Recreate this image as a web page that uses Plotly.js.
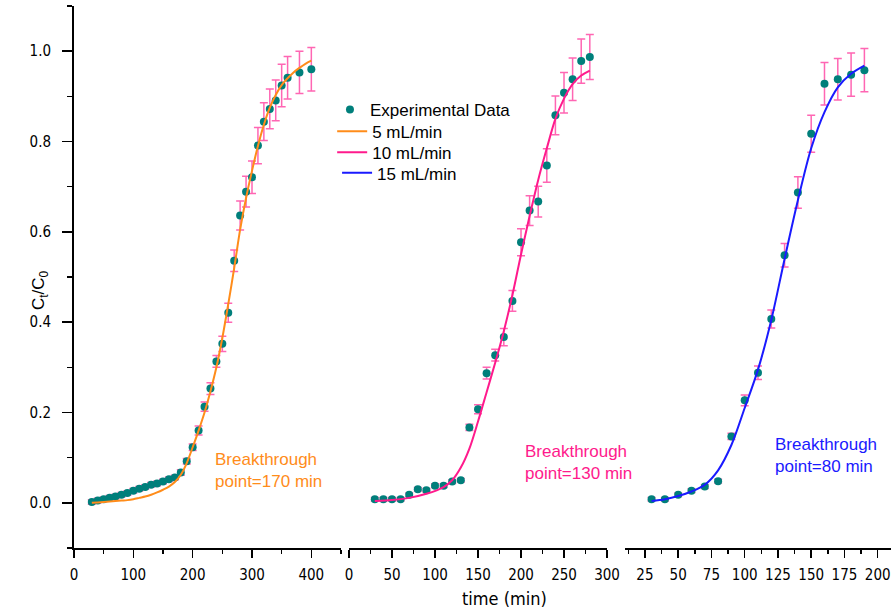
<!DOCTYPE html>
<html>
<head>
<meta charset="utf-8">
<script src="https://cdn.plot.ly/plotly-3.0.1.min.js"></script>
<style>html,body{margin:0;padding:0;background:#fff;}#chart{width:895px;height:614px;}</style>
</head>
<body>
<div id="chart"></div>
<script>
// ---- Experimental data, 5 mL/min ----
const t5 = [30,40,50,60,70,80,90,100,110,120,130,140,150,160,170,180,190,200,210,220,230,240,250,260,270,280,290,300,310,320,330,340,350,360,380,400];
const c5 = [0.002,0.005,0.008,0.011,0.014,0.018,0.022,0.027,0.031,0.035,0.040,0.043,0.047,0.052,0.056,0.067,0.092,0.123,0.160,0.213,0.253,0.313,0.352,0.421,0.536,0.636,0.689,0.721,0.791,0.844,0.872,0.891,0.924,0.941,0.953,0.960];
const e5 = [0.005,0.005,0.005,0.005,0.005,0.005,0.005,0.005,0.005,0.005,0.005,0.005,0.005,0.005,0.005,0.006,0.006,0.007,0.010,0.010,0.013,0.013,0.017,0.021,0.024,0.032,0.034,0.036,0.040,0.042,0.044,0.045,0.047,0.047,0.047,0.048];
// ---- Experimental data, 10 mL/min ----
const t10 = [30,40,50,60,70,80,90,100,110,120,130,140,150,160,170,180,190,200,210,220,230,240,250,260,270,280];
const c10 = [0.008,0.008,0.008,0.008,0.018,0.030,0.028,0.038,0.038,0.047,0.050,0.167,0.207,0.287,0.327,0.367,0.447,0.577,0.647,0.667,0.747,0.858,0.908,0.938,0.978,0.987];
const e10 = [0.004,0.004,0.004,0.004,0.004,0.004,0.004,0.004,0.004,0.004,0.004,0.007,0.010,0.013,0.013,0.019,0.023,0.030,0.033,0.034,0.037,0.043,0.045,0.047,0.049,0.050];
// ---- Experimental data, 15 mL/min ----
const t15 = [30,40,50,60,70,80,90,100,110,120,130,140,150,160,170,180,190];
const c15 = [0.008,0.008,0.018,0.027,0.036,0.048,0.147,0.227,0.288,0.407,0.548,0.687,0.817,0.928,0.938,0.948,0.958];
const e15 = [0.004,0.004,0.004,0.004,0.004,0.004,0.007,0.012,0.015,0.020,0.026,0.035,0.041,0.047,0.046,0.048,0.048];
// ---- Fitted curves ----
const ft5 = [30,40,50,60,70,80,90,100,110,120,130,140,150,160,170,180,190,200,210,220,230,240,250,260,270,280,290,300,310,320,330,340,350,360,370,380,390,400];
const fc5 = [0.000,0.001,0.002,0.003,0.004,0.005,0.006,0.008,0.011,0.014,0.018,0.023,0.029,0.036,0.046,0.062,0.088,0.123,0.160,0.200,0.247,0.300,0.365,0.440,0.520,0.605,0.675,0.735,0.790,0.837,0.875,0.903,0.925,0.940,0.953,0.963,0.972,0.979];
const ft10 = [30,50,70,90,110,120,130,140,150,160,170,180,190,200,210,220,230,240,250,260,270,280];
const fc10 = [0.004,0.006,0.011,0.020,0.035,0.050,0.078,0.120,0.180,0.245,0.310,0.380,0.460,0.550,0.635,0.715,0.785,0.850,0.895,0.927,0.946,0.957];
const ft15 = [30,40,50,60,70,80,90,100,110,120,130,140,150,160,170,180,190];
const fc15 = [0.004,0.008,0.015,0.025,0.040,0.072,0.128,0.210,0.295,0.405,0.540,0.670,0.785,0.865,0.920,0.950,0.968];
// ---- Labels ----
const seriesNames = ['Experimental Data','5 mL/min','10 mL/min','15 mL/min'];
const notes = ['Breakthrough<br>point=170 min','Breakthrough<br>point=130 min','Breakthrough<br>point=80 min'];

const TEAL = '#007f7b', PINK = '#ff66b3';
const COL5 = '#ff8c1a', COL10 = '#ff1a8c', COL15 = '#1a1aff';
const NARROW = '"Liberation Sans Narrow", "Arial Narrow", "DejaVu Sans Condensed", sans-serif';
const SANS = '"Liberation Sans", Arial, sans-serif';

function dataTrace(x, y, e, xa, show) {
  return {
    type: 'scatter', mode: 'markers', x: x, y: y, xaxis: xa, yaxis: 'y',
    name: seriesNames[0], showlegend: show, legend: 'legend',
    marker: {color: TEAL, size: 8},
    error_y: {type: 'data', array: e, visible: true, color: PINK, thickness: 1.5, width: 4}
  };
}
function fitTrace(x, y, xa, name, col, lg) {
  return {
    type: 'scatter', mode: 'lines', x: x, y: y, xaxis: xa, yaxis: 'y',
    name: name, legend: lg,
    line: {color: col, width: 2, shape: 'spline', smoothing: 0.9}
  };
}

const traces = [
  dataTrace(t5, c5, e5, 'x', true),
  dataTrace(t10, c10, e10, 'x2', false),
  dataTrace(t15, c15, e15, 'x3', false),
  fitTrace(ft5, fc5, 'x', seriesNames[1], COL5, 'legend2'),
  fitTrace(ft10, fc10, 'x2', seriesNames[2], COL10, 'legend3'),
  fitTrace(ft15, fc15, 'x3', seriesNames[3], COL15, 'legend4')
];

function xax(domain, range, dtick, minor) {
  return {
    domain: domain, range: range, anchor: 'y', tick0: 0, dtick: dtick,
    showline: true, linewidth: 2, linecolor: '#000', zeroline: false, showgrid: false,
    ticks: 'outside', ticklen: 8, tickwidth: 1.5, tickcolor: '#000',
    minor: {ticks: 'outside', ticklen: 4, tickwidth: 1.5, dtick: minor, tick0: 0, tickcolor: '#000', showgrid: false},
    tickfont: {family: NARROW, size: 15, color: '#000'}, ticklabelstandoff: 4
  };
}
function lg(x, y) {
  return {x: x, y: y, xanchor: 'left', yanchor: 'middle', bgcolor: 'rgba(0,0,0,0)', borderwidth: 0,
          font: {family: SANS, size: 17, color: '#000'}};
}

const layout = {
  width: 895, height: 614,
  margin: {l: 74, r: 4, t: 6, b: 66},
  paper_bgcolor: '#fff', plot_bgcolor: 'rgba(0,0,0,0)',
  showlegend: true,
  legend: lg(0.3133, 0.8081),
  legend2: lg(0.3160, 0.7681),
  legend3: lg(0.3160, 0.7293),
  legend4: lg(0.3220, 0.6913),
  xaxis: xax([0, 0.3268], [0, 450], 100, 50),
  xaxis2: xax([0.3366, 0.6524], [0, 300], 50, 25),
  xaxis3: xax([0.6744, 1], [10, 210], 25, 12.5),
  yaxis: {
    range: [-0.1, 1.1], anchor: 'x', tick0: 0, dtick: 0.2, tickformat: '.1f',
    showline: true, linewidth: 2, linecolor: '#000', zeroline: false, showgrid: false,
    ticks: 'outside', ticklen: 10, tickwidth: 1.5, tickcolor: '#000',
    minor: {ticks: 'outside', ticklen: 5, tickwidth: 1.5, dtick: 0.1, tick0: 0, tickcolor: '#000', showgrid: false},
    tickfont: {family: NARROW, size: 15, color: '#000'}, ticklabelstandoff: 8
  },
  annotations: [
    {xref: 'paper', yref: 'paper', x: 0.1700, y: 0.1439, xanchor: 'left', yanchor: 'middle', align: 'left',
     text: notes[0], showarrow: false, font: {family: SANS, size: 17, color: COL5}},
    {xref: 'paper', yref: 'paper', x: 0.5490, y: 0.1570, xanchor: 'left', yanchor: 'middle', align: 'left',
     text: notes[1], showarrow: false, font: {family: SANS, size: 17, color: COL10}},
    {xref: 'paper', yref: 'paper', x: 0.8555, y: 0.1700, xanchor: 'left', yanchor: 'middle', align: 'left',
     text: notes[2], showarrow: false, font: {family: SANS, size: 17, color: COL15}},
    {xref: 'paper', yref: 'paper', x: -0.0416, y: 0.476, xanchor: 'center', yanchor: 'middle', textangle: -90,
     text: 'C<sub>t</sub>/C<sub>0</sub>', showarrow: false, font: {family: SANS, size: 17, color: '#000'}},
    {xref: 'paper', yref: 'paper', x: 0.5275, y: -0.0923, xanchor: 'center', yanchor: 'middle',
     text: 'time (min)', showarrow: false, font: {family: NARROW, size: 18, color: '#000'}}
  ]
};

Plotly.newPlot('chart', traces, layout, {staticPlot: true, displayModeBar: false});
</script>
</body>
</html>
